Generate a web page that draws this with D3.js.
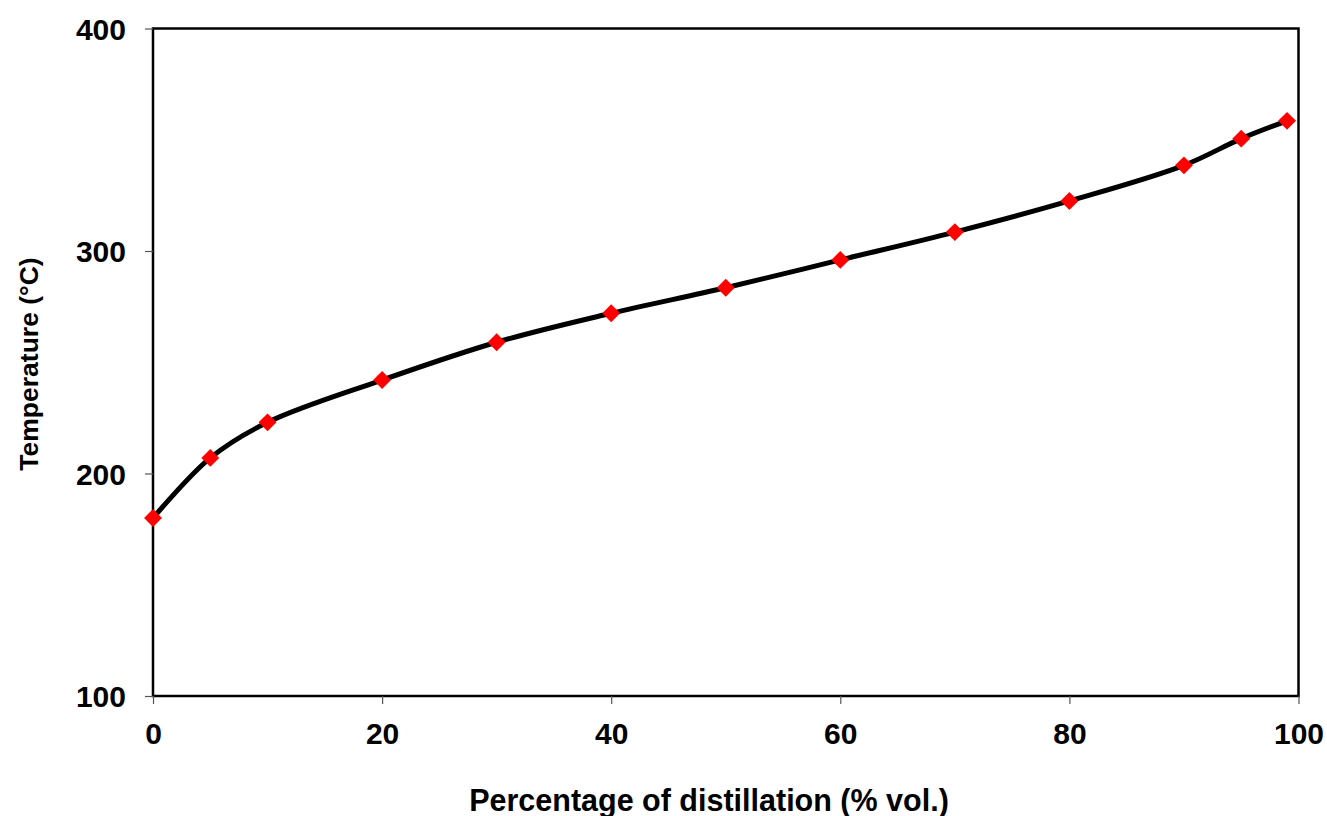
<!DOCTYPE html>
<html>
<head>
<meta charset="utf-8">
<script src="https://cdn.jsdelivr.net/npm/d3@7"></script>
<style>
  body { margin: 0; background: #fff; }
  text { font-family: "Liberation Sans", Arial, sans-serif; font-weight: bold; }
</style>
</head>
<body>
<script>
// distillation curve
const percent = [0, 5, 10, 20, 30, 40, 50, 60, 70, 80, 90, 95, 99];
const temperature = [180, 207, 223, 242, 259, 272, 283.5, 296, 308.5, 322.5, 338.5, 350.5, 358.5];
const xTicks = [0, 20, 40, 60, 80, 100];
const yTicks = [100, 200, 300, 400];

const w = 1327, h = 816;
const margin = { top: 28.5, right: 28.5, bottom: 120, left: 153 };

const svg = d3.select("body")
  .append("svg")
  .attr("width", w)
  .attr("height", h);

const x = d3.scaleLinear().domain([0, 100]).range([margin.left, w - margin.right]);
const y = d3.scaleLinear().domain([100, 400]).range([h - margin.bottom, margin.top]);

const pts = percent.map((p, i) => ({ p: p, t: temperature[i] }));

// frame
svg.append("rect")
  .attr("x", x(0))
  .attr("y", y(400))
  .attr("width", x(100) - x(0))
  .attr("height", y(100) - y(400))
  .attr("fill", "none")
  .attr("stroke", "#000")
  .attr("stroke-width", 2.5);

// axes
const xAxis = svg.append("g")
  .attr("transform", `translate(0,${y(100)})`)
  .call(d3.axisBottom(x).tickValues(xTicks).tickSize(8).tickPadding(19));
const yAxis = svg.append("g")
  .attr("transform", `translate(${x(0)},0)`)
  .call(d3.axisLeft(y).tickValues(yTicks).tickSize(8).tickPadding(19));

[xAxis, yAxis].forEach(g => {
  g.select(".domain").remove();
  g.selectAll("line").attr("stroke", "#555").attr("stroke-width", 1.2);
  g.selectAll("text")
    .attr("fill", "#000")
    .style("font-size", "30px")
    .style("font-family", "'Liberation Sans', Arial, sans-serif")
    .style("font-weight", "bold");
});
yAxis.selectAll("text").attr("dy", "0.36em");

// curve
const line = d3.line()
  .x(d => x(d.p))
  .y(d => y(d.t))
  .curve(d3.curveCatmullRom.alpha(0.5));

svg.append("path")
  .datum(pts)
  .attr("d", line)
  .attr("fill", "none")
  .attr("stroke", "#000")
  .attr("stroke-width", 5);

// markers
svg.selectAll(".mk")
  .data(pts)
  .enter()
  .append("path")
  .attr("class", "mk")
  .attr("d", d3.symbol().type(d3.symbolSquare).size(160))
  .attr("transform", d => `translate(${x(d.p)},${y(d.t)}) rotate(45)`)
  .attr("fill", "#ff0000");

// titles
svg.append("text")
  .attr("x", 709)
  .attr("y", 811)
  .attr("text-anchor", "middle")
  .style("font-size", "30.5px")
  .text("Percentage of distillation (% vol.)");

svg.append("text")
  .attr("transform", `translate(38,364) rotate(-90)`)
  .attr("text-anchor", "middle")
  .style("font-size", "26.5px")
  .text("Temperature (°C)");
</script>
</body>
</html>
